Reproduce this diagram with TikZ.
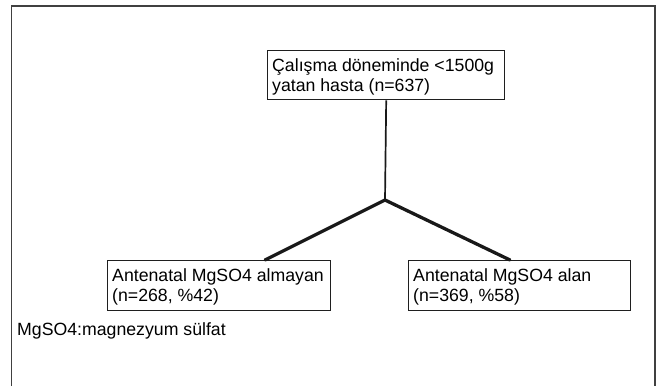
\documentclass[tikz,border=0pt]{standalone}
\usepackage{fontspec}
\setmainfont{Liberation Sans}
\begin{document}
\begin{tikzpicture}[x=1pt,y=-1pt,
  box/.style={draw=black!88, line width=1.4pt, anchor=north west, inner sep=0pt},
  txt/.style={anchor=base west, inner sep=0pt, font=\fontsize{17.7}{19.3}\selectfont},
  thin/.style={line width=1.7pt, black!90},
  thick/.style={line width=3.3pt, black!90}]
\useasboundingbox (0,0) rectangle (671,386);
\fill[white] (0,0) rectangle (671,386);
\draw[line width=1.6pt, black!75] (11.5,386) -- (11.5,6) -- (655,6) -- (655,386);
\node[box, minimum width=237pt, minimum height=49pt] (top) at (267,50) {};
\node[box, minimum width=223pt, minimum height=50pt] (L) at (107,260) {};
\node[box, minimum width=222pt, minimum height=50pt] (R) at (408,260) {};
\node[txt] (topt) at ([shift={(5pt,-21.7pt)}]top.north west) {\parbox[t]{232pt}{Çalışma döneminde <1500g\\yatan hasta (n=637)}};
\node[txt] (Lt) at ([shift={(5pt,-21.7pt)}]L.north west) {\parbox[t]{218pt}{Antenatal MgSO4 almayan\\(n=268, \%42)}};
\node[txt] (Rt) at ([shift={(5pt,-21.7pt)}]R.north west) {\parbox[t]{217pt}{Antenatal MgSO4 alan\\(n=369, \%58)}};
\coordinate (br) at (385,200);
\coordinate (Lend) at ([xshift=158pt]L.north west);
\coordinate (Rend) at ([xshift=102pt]R.north west);
\draw[thin] (top.south) -- (br);
\draw[thick, line cap=round] (Lend) -- (br) -- (Rend);
\node[txt] (note) at (17,335) {MgSO4:magnezyum sülfat};
\end{tikzpicture}
\end{document}
